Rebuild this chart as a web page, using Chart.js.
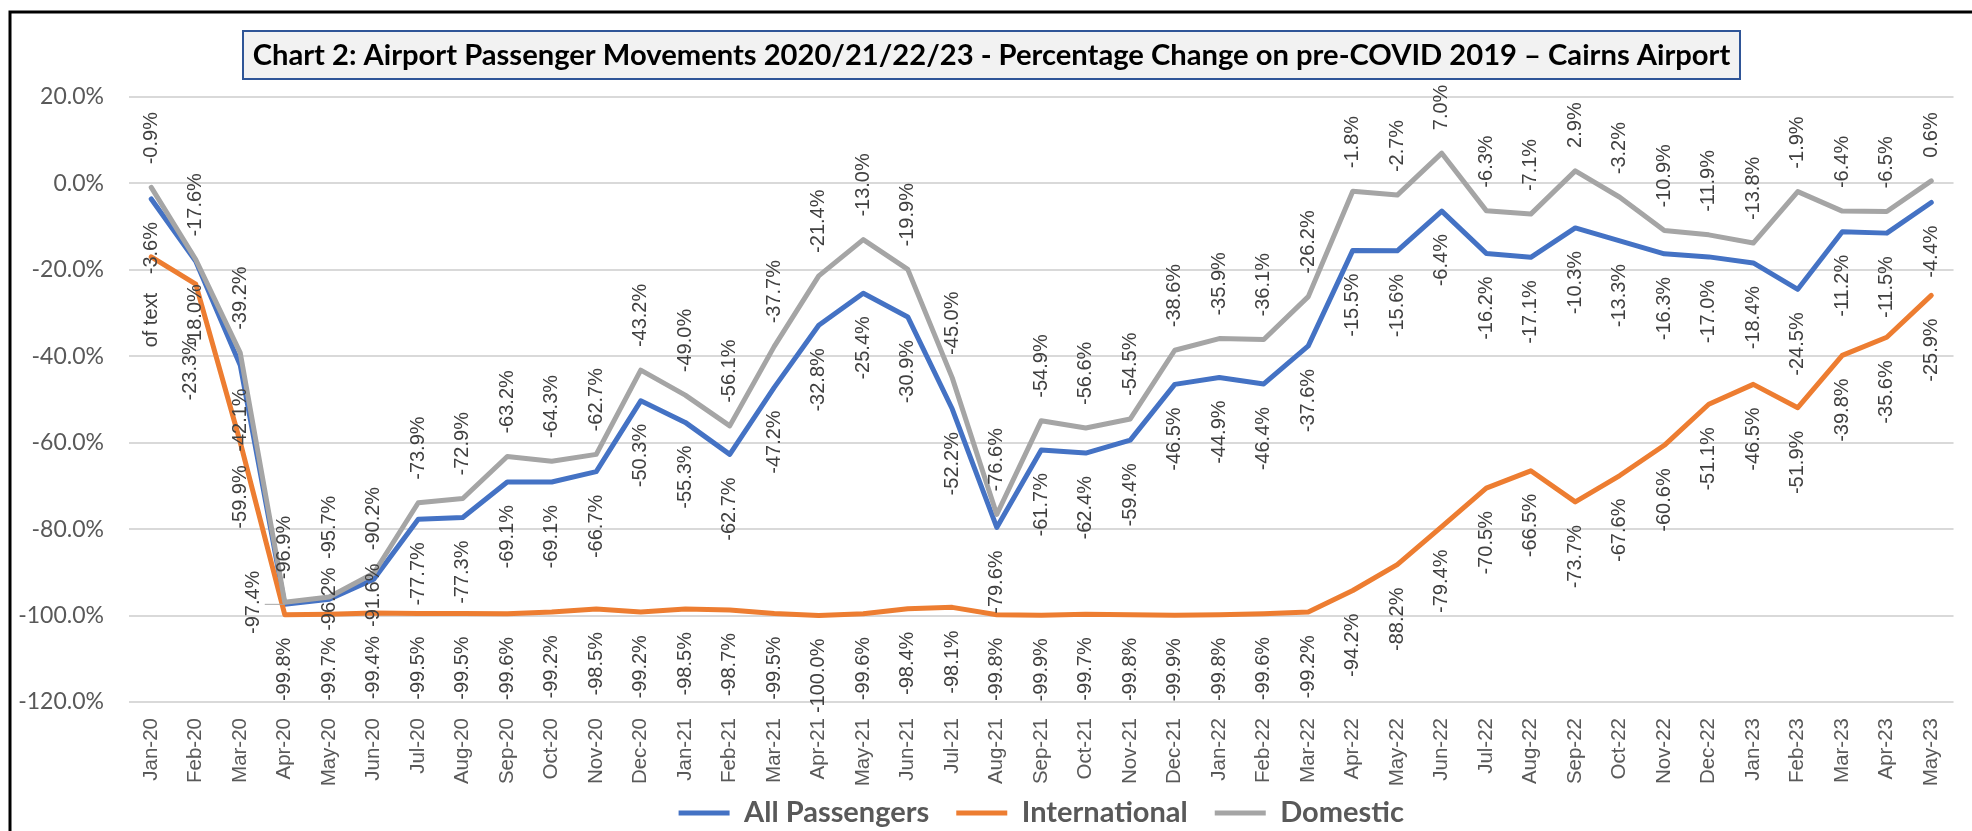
<!DOCTYPE html>
<html>
<head>
<meta charset="utf-8">
<script src="https://cdn.jsdelivr.net/npm/chart.js@4.4.0/dist/chart.umd.min.js"></script>
<style>
html,body{margin:0;padding:0;background:#ffffff;}
#wrap{width:1972px;height:831px;position:relative;}
</style>
</head>
<body>
<div id="wrap"><canvas id="c" width="1972" height="831"></canvas></div>
<script>
// ---------- DATA ----------
const months = ['Jan-20','Feb-20','Mar-20','Apr-20','May-20','Jun-20','Jul-20','Aug-20','Sep-20','Oct-20','Nov-20','Dec-20',
  'Jan-21','Feb-21','Mar-21','Apr-21','May-21','Jun-21','Jul-21','Aug-21','Sep-21','Oct-21','Nov-21','Dec-21',
  'Jan-22','Feb-22','Mar-22','Apr-22','May-22','Jun-22','Jul-22','Aug-22','Sep-22','Oct-22','Nov-22','Dec-22',
  'Jan-23','Feb-23','Mar-23','Apr-23','May-23'];

const allPassengers = [-3.6,-18.0,-42.1,-97.4,-96.2,-91.6,-77.7,-77.3,-69.1,-69.1,-66.7,-50.3,
  -55.3,-62.7,-47.2,-32.8,-25.4,-30.9,-52.2,-79.6,-61.7,-62.4,-59.4,-46.5,
  -44.9,-46.4,-37.6,-15.5,-15.6,-6.4,-16.2,-17.1,-10.3,-13.3,-16.3,-17.0,
  -18.4,-24.5,-11.2,-11.5,-4.4];

const international = [-17.0,-23.3,-59.9,-99.8,-99.7,-99.4,-99.5,-99.5,-99.6,-99.2,-98.5,-99.2,
  -98.5,-98.7,-99.5,-100.0,-99.6,-98.4,-98.1,-99.8,-99.9,-99.7,-99.8,-99.9,
  -99.8,-99.6,-99.2,-94.2,-88.2,-79.4,-70.5,-66.5,-73.7,-67.6,-60.6,-51.1,
  -46.5,-51.9,-39.8,-35.6,-25.9];

const domestic = [-0.9,-17.6,-39.2,-96.9,-95.7,-90.2,-73.9,-72.9,-63.2,-64.3,-62.7,-43.2,
  -49.0,-56.1,-37.7,-21.4,-13.0,-19.9,-45.0,-76.6,-54.9,-56.6,-54.5,-38.6,
  -35.9,-36.1,-26.2,-1.8,-2.7,7.0,-6.3,-7.1,2.9,-3.2,-10.9,-11.9,
  -13.8,-1.9,-6.4,-6.5,0.6];

const seriesNames = ['All Passengers','International','Domestic'];
const yTickValues = [20,0,-20,-40,-60,-80,-100,-120];
const intlFirstLabel = 'of text';
const chartTitle = 'Chart 2: Airport Passenger Movements 2020/21/22/23 - Percentage Change on pre-COVID 2019 \u2013 Cairns Airport';

// ---------- helpers ----------
const pct = v => v.toFixed(1) + '%';
const allLabels = allPassengers.map(pct);
const intlLabels = international.map(pct); intlLabels[0] = intlFirstLabel;
const domLabels = domestic.map(pct);

const SANS = '"Liberation Sans", Arial, sans-serif';
const LATO = 'Lato, "Open Sans", sans-serif';

// Rotated data labels (reading bottom-to-top), Excel-like positions
const rotLabels = {
  id: 'rotLabels',
  afterDatasetsDraw(chart) {
    const ctx = chart.ctx;
    const gap = 23;
    ctx.save();
    ctx.font = '20px ' + SANS;
    ctx.fillStyle = '#404040';
    chart.data.datasets.forEach((ds, di) => {
      const meta = chart.getDatasetMeta(di);
      meta.data.forEach((pt, i) => {
        const txt = ds.labelTexts[i];
        const adj = (ds.labelAdjust && ds.labelAdjust[i]) || {};
        const mode = adj.pos || ds.labelPos;
        const x = pt.x + (adj.dx || 0);
        let y;
        let align;
        if (mode === 'above') { y = pt.y - gap; align = 'left'; }
        else if (mode === 'below') { y = pt.y + gap; align = 'right'; }
        else { y = pt.y; align = 'center'; }
        y += (adj.dy || 0);
        if (adj.leader) {
          ctx.save();
          ctx.strokeStyle = '#a6a6a6';
          ctx.lineWidth = 1;
          ctx.beginPath();
          ctx.moveTo(x + 11, pt.y);
          ctx.lineTo(pt.x, pt.y);
          ctx.stroke();
          ctx.restore();
        }
        ctx.save();
        ctx.translate(x, y);
        ctx.rotate(-Math.PI / 2);
        ctx.textAlign = align;
        ctx.textBaseline = 'middle';
        ctx.fillText(txt, 0, 0);
        ctx.restore();
      });
    });
    ctx.restore();
  }
};

// Frame + boxed title + legend placement
const frameTitle = {
  id: 'frameTitle',
  afterLayout(chart) {
    const lg = chart.legend;
    if (!lg) return;
    const pad = lg.options.labels.padding;
    const size = lg.options.labels.font.size;
    const center = lg.top + pad + size / 2;
    const delta = 813 - center;
    lg.top += delta;
    lg.bottom += delta;
  },
  beforeDraw(chart) {
    const ctx = chart.ctx;
    ctx.save();
    ctx.fillStyle = '#ffffff';
    ctx.fillRect(0, 0, chart.width, chart.height);
    ctx.restore();
  },
  afterDraw(chart) {
    const ctx = chart.ctx;
    ctx.save();
    // outer frame
    ctx.strokeStyle = '#000000';
    ctx.lineWidth = 3;
    ctx.beginPath();
    ctx.moveTo(10, chart.height + 5);
    ctx.lineTo(10, 12);
    ctx.lineTo(chart.width + 5, 12);
    ctx.stroke();
    // title box
    const bx = 243, by = 31, bw = 1497, bh = 48;
    ctx.fillStyle = '#f2f2f2';
    ctx.fillRect(bx, by, bw, bh);
    ctx.strokeStyle = '#2f5597';
    ctx.lineWidth = 2;
    ctx.strokeRect(bx, by, bw, bh);
    // title text fitted to box
    let size = 29;
    ctx.font = 'bold ' + size + 'px ' + LATO;
    const w = ctx.measureText(chartTitle).width;
    size = size * 1478 / w;
    ctx.font = 'bold ' + size.toFixed(2) + 'px ' + LATO;
    ctx.fillStyle = '#000000';
    ctx.textAlign = 'center';
    ctx.textBaseline = 'middle';
    ctx.fillText(chartTitle, bx + bw / 2, by + bh / 2 + 1);
    ctx.restore();
  }
};

const datasets = [
  {
    label: seriesNames[0], data: allPassengers,
    borderColor: '#4472C4', backgroundColor: '#4472C4', order: 2,
    labelTexts: allLabels, labelPos: 'below',
    labelAdjust: { 3: {pos: 'center', dx: -31, dy: -2, leader: true}, 4: {pos: 'center'}, 5: {pos: 'center', dy: 16} }
  },
  {
    label: seriesNames[1], data: international,
    borderColor: '#ED7D31', backgroundColor: '#ED7D31', order: 1,
    labelTexts: intlLabels, labelPos: 'below',
    labelAdjust: { 0: {dy: 13}, 1: {dy: 30, dx: -5} }
  },
  {
    label: seriesNames[2], data: domestic,
    borderColor: '#A5A5A5', backgroundColor: '#A5A5A5', order: 0,
    labelTexts: domLabels, labelPos: 'above',
    labelAdjust: { 4: {dy: -15} }
  }
];
datasets.forEach(d => Object.assign(d, {
  borderWidth: 5, pointRadius: 0, pointHoverRadius: 0, tension: 0,
  borderJoinStyle: 'round', borderCapStyle: 'round', fill: false
}));

new Chart(document.getElementById('c'), {
  type: 'line',
  data: { labels: months, datasets },
  options: {
    responsive: false,
    animation: false,
    events: [],
    layout: { padding: { top: 97, left: 0, right: 10, bottom: -29 } },
    plugins: {
      title: { display: false },
      tooltip: { enabled: false },
      legend: {
        display: true,
        position: 'bottom',
        fullSize: false,
        labels: {
          usePointStyle: true,
          pointStyle: 'line',
          pointStyleWidth: 51,
          boxHeight: 5,
          padding: 27,
          color: '#595959',
          font: { family: LATO, size: 29, weight: 'bold' },
          sort: (a, b) => a.datasetIndex - b.datasetIndex
        }
      }
    },
    scales: {
      x: {
        offset: true,
        grid: { display: false, drawTicks: false },
        border: { display: false },
        ticks: {
          autoSkip: false, minRotation: 90, maxRotation: 90, padding: 16,
          color: '#595959', font: { family: SANS, size: 20.5 }
        },
        afterFit: s => { s.height = 92; }
      },
      y: {
        min: -120, max: 20,
        afterBuildTicks: s => { s.ticks = yTickValues.map(v => ({ value: v })); },
        grid: { color: '#d9d9d9', lineWidth: 2, drawTicks: false },
        border: { display: false },
        ticks: {
          padding: 25, color: '#595959',
          font: { family: LATO, size: 23 },
          callback: v => Number(v).toFixed(1) + '%'
        },
        afterFit: s => { s.width = 129; }
      }
    }
  },
  plugins: [frameTitle, rotLabels]
});
</script>
</body>
</html>
